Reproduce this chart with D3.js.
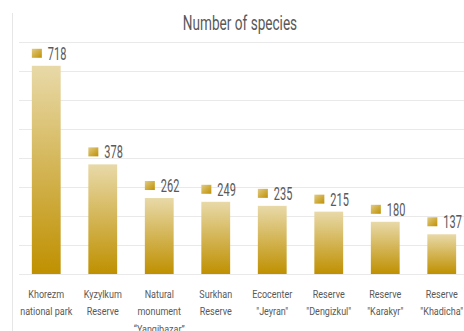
<!DOCTYPE html>
<html><head><meta charset="utf-8">
<script src="https://cdn.jsdelivr.net/npm/d3@7"></script>
<style>
body{margin:0;background:#fff;}
svg{display:block;}
text{font-family:Roboto,"DejaVu Sans Condensed",sans-serif;}
</style></head>
<body>
<script>
const categories = [
  ["Khorezm","national park"],
  ["Kyzylkum","Reserve"],
  ["Natural","monument","\u201cYangibazar\u201d"],
  ["Surkhan","Reserve"],
  ["Ecocenter","\"Jeyran\""],
  ["Reserve","\"Dengizkul\""],
  ["Reserve","\"Karakyr\""],
  ["Reserve","\"Khadicha\""]
];
const values = [718, 378, 262, 249, 235, 215, 180, 137];
const yTicks = [0,100,200,300,400,500,600,700,800];
const title = "Number of species";

const W = 464, H = 331;
const svg = d3.select("body").append("svg").attr("width", W).attr("height", H);

const defs = svg.append("defs");
const g1 = defs.append("linearGradient").attr("id","barGrad").attr("x1",0).attr("y1",0).attr("x2",0).attr("y2",1);
g1.append("stop").attr("offset","0%").attr("stop-color","#e8d9a8");
g1.append("stop").attr("offset","100%").attr("stop-color","#bf9000");
const g2 = defs.append("linearGradient").attr("id","sqGrad").attr("x1",0).attr("y1",0).attr("x2",1).attr("y2",1);
g2.append("stop").attr("offset","0%").attr("stop-color","#e2cc85");
g2.append("stop").attr("offset","100%").attr("stop-color","#bf9000");

// left border line
svg.append("line").attr("x1",12.5).attr("x2",12.5).attr("y1",13).attr("y2",H)
  .attr("stroke","#e6e6e6").attr("stroke-width",1);

const x = d3.scaleBand().domain(d3.range(values.length)).range([18, 470]).paddingInner(0.49).paddingOuter(0.245);
const y = d3.scaleLinear().domain([0, 800]).range([274, 42]);

// gridlines
const yAxis = d3.axisLeft(y).tickValues(yTicks).tickSize(-(W-19)).tickFormat("");
const ga = svg.append("g").attr("transform","translate(19,0)").call(yAxis);
ga.select(".domain").remove();
ga.selectAll(".tick line").attr("stroke","#e9e9e9").attr("stroke-width",1);

// title
svg.append("text").attr("transform","translate(240,30) scale(0.68,1)").attr("text-anchor","middle")
  .attr("font-size",20).attr("fill","#595959").text(title);

// bars
svg.selectAll("rect.bar").data(values).join("rect").attr("class","bar")
  .attr("x",(d,i)=>x(i)).attr("width",x.bandwidth())
  .attr("y",d=>y(d)).attr("height",d=>y(0)-y(d))
  .attr("fill","url(#barGrad)");

// value labels
const lab = svg.selectAll("g.lab").data(values).join("g").attr("class","lab")
  .attr("transform",(d,i)=>`translate(${x(i)},${y(d)})`);
lab.append("rect").attr("x",0).attr("y",-17).attr("width",10).attr("height",9).attr("fill","url(#sqGrad)");
lab.append("text").attr("transform","translate(16,-6) scale(0.6,1)").attr("font-size",18.3).attr("fill","#595959").text(d=>d);

// category labels
const cl = svg.selectAll("text.cat").data(categories).join("text").attr("class","cat")
  .attr("transform",(d,i)=>`translate(${x(i)+x.bandwidth()/2},298) scale(0.77,1)`)
  .attr("text-anchor","middle").attr("font-size",11.7).attr("fill","#595959");
cl.selectAll("tspan").data(d=>d).join("tspan")
  .attr("x",0).attr("dy",(d,i)=>i===0?0:17.5).text(d=>d);
</script>
</body></html>
